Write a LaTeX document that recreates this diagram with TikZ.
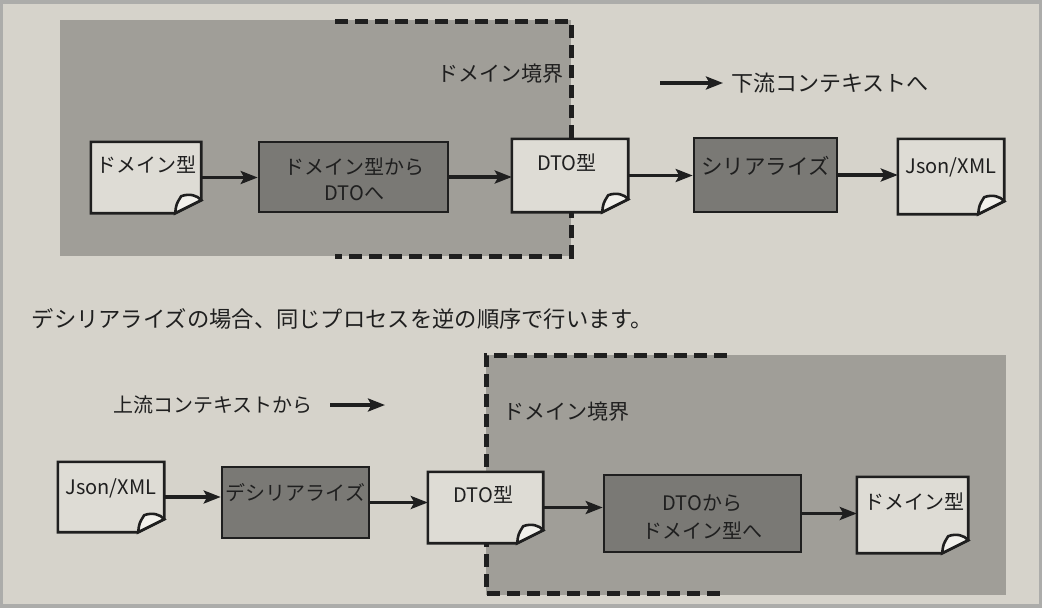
\documentclass[tikz,border=0pt]{standalone}
\usepackage{fontspec}
\setmainfont{Noto Sans CJK JP}
\usetikzlibrary{arrows.meta}

\definecolor{paper}{HTML}{D6D3CB}
\definecolor{frame}{HTML}{ACACAA}
\definecolor{zone}{HTML}{A09E98}
\definecolor{procfill}{HTML}{7A7975}
\definecolor{docfill}{HTML}{DEDCD5}
\definecolor{flapfill}{HTML}{F2F1EC}
\definecolor{ink}{HTML}{1F1F1F}

\tikzset{
  txt/.style={font=\fontsize{20}{26}\selectfont, text=ink, inner sep=0pt, align=center},
  bodytext/.style={font=\fontsize{22.3}{26}\selectfont, text=ink, inner sep=0pt},
  docbox/.style={rectangle, draw=none, inner sep=0pt},
  procbox/.style={rectangle, draw=ink, line width=2.6pt, fill=procfill, inner sep=0pt},
  docline/.style={draw=ink, line width=2.6pt, line join=miter},
  flow/.style={draw=ink, line width=3.2pt, -{Stealth[length=17pt,width=13pt,inset=3.5pt]}},
  boundary/.style={draw=ink, line width=5pt, dash pattern=on 13pt off 7pt},
}

% Page with a folded bottom-right corner, drawn around an empty node
\newcommand{\dogear}[1]{%
  \path[docline, fill=docfill] (#1.north west) -- (#1.north east)
    -- ([yshift=13pt]#1.south east) -- ([xshift=-26pt]#1.south east)
    -- (#1.south west) -- cycle;
  \path[docline, fill=flapfill] ([xshift=-26pt]#1.south east)
    .. controls ([xshift=-25pt,yshift=9pt]#1.south east) .. ([xshift=-20pt,yshift=17pt]#1.south east)
    .. controls ([xshift=-12pt,yshift=20pt]#1.south east) and ([xshift=-4pt,yshift=18pt]#1.south east) .. ([yshift=13pt]#1.south east)
    -- cycle;
}

\begin{document}
\begin{tikzpicture}[x=1pt, y=-1pt]
\useasboundingbox (0,0) rectangle (1042,608);
\fill[frame] (0,0) rectangle (1042,608);
\fill[paper] (3,4) rectangle (1039,604);

% ---------- serialisation ----------
\fill[zone] (60,20) rectangle (571,256);
\draw[boundary] (335,21) -- (571,21) -- (571,256) -- (335,256);
\node[txt, font=\fontsize{21}{26}\selectfont] (bnd1) at (500,74) {ドメイン境界};

\coordinate (dnstart) at (660,83);
\node[txt, font=\fontsize{22}{26}\selectfont, anchor=west] (dn) at (731,83) {下流コンテキストへ};
\draw[flow, shorten >=8pt] (dnstart) -- (dn.west);

\node[docbox, minimum width=110pt, minimum height=71pt] (d1) at (146,177.5) {};
\dogear{d1}
\node[txt] (d1t) at ([yshift=12.5pt]d1.center) {ドメイン型};

\node[procbox, minimum width=189pt, minimum height=70pt] (p1) at (353.5,177) {};
\node[txt] (p1t) at ([xshift=1pt,yshift=-2.5pt]p1.center) {ドメイン型から\\DTOへ};

\node[docbox, minimum width=116pt, minimum height=73pt] (d2) at (570,175.5) {};
\dogear{d2}
\node[txt] (d2t) at ([xshift=-3pt,yshift=12.5pt]d2.center) {DTO型};

\node[procbox, minimum width=143pt, minimum height=74pt] (p2) at (765.5,175) {};
\node[txt, font=\fontsize{21.5}{26}\selectfont] (p2t) at ([yshift=9pt]p2.center) {シリアライズ};

\node[docbox, minimum width=106pt, minimum height=75pt] (d3) at (951,176.5) {};
\dogear{d3}
\node[txt] (d3t) at ([yshift=9.5pt]d3.center) {Json/XML};

\draw[flow] (d1.east) -- (d1.east -| p1.west);
\draw[flow] (p1.east) -- (p1.east -| d2.west);
\draw[flow] (d2.east) -- (d2.east -| p2.west);
\draw[flow] (p2.east) -- (p2.east -| d3.west);

% ---------- sentence ----------
\node[bodytext] (sent) at (342.5,319) {デシリアライズの場合、同じプロセスを逆の順序で行います。};

% ---------- deserialisation ----------
\fill[zone] (486,355) rectangle (1006,595);
\draw[boundary] (727,355) -- (486,355) -- (486,593) -- (727,593);
\node[txt, font=\fontsize{21}{26}\selectfont] (bnd2) at (566,412) {ドメイン境界};

\node[txt, anchor=east] (up) at (313,405) {上流コンテキストから};
\coordinate (upend) at (385,405);
\draw[flow, shorten <=17pt] (up.east) -- (upend);

\node[docbox, minimum width=106pt, minimum height=70pt] (e1) at (111,497) {};
\dogear{e1}
\node[txt] (e1t) at ([yshift=9pt]e1.center) {Json/XML};

\node[procbox, minimum width=147pt, minimum height=71pt] (q1) at (295.5,502.5) {};
\node[txt] (q1t) at ([yshift=9.5pt]q1.center) {デシリアライズ};

\node[docbox, minimum width=115pt, minimum height=71pt] (e2) at (485.5,507.5) {};
\dogear{e2}
\node[txt] (e2t) at ([xshift=-2pt,yshift=12.5pt]e2.center) {DTO型};

\node[procbox, minimum width=197pt, minimum height=77pt] (q2) at (702.5,513.5) {};
\node[txt, font=\fontsize{20}{28}\selectfont] (q2t) at ([yshift=-4pt]q2.center) {DTOから\\ドメイン型へ};

\node[docbox, minimum width=111pt, minimum height=76pt] (e3) at (912.5,515) {};
\dogear{e3}
\node[txt] (e3t) at ([xshift=2pt,yshift=13pt]e3.center) {ドメイン型};

\draw[flow] (e1.east) -- (e1.east -| q1.west);
\draw[flow] (q1.east) -- (q1.east -| e2.west);
\draw[flow] (e2.east) -- (e2.east -| q2.west);
\draw[flow] (q2.east) -- (q2.east -| e3.west);
\end{tikzpicture}
\end{document}
